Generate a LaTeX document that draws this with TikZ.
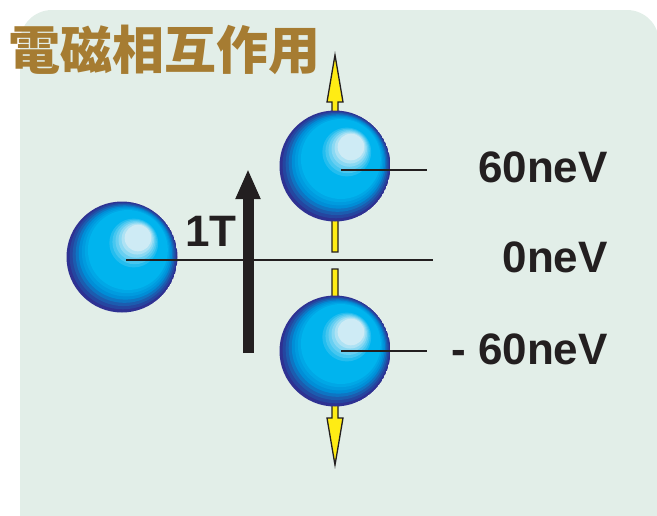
\documentclass[tikz,border=0pt]{standalone}
\usepackage{fontspec}
\setmainfont{Liberation Sans}
\newfontfamily\cjk{Noto Sans CJK JP}
\usetikzlibrary{arrows.meta}

\definecolor{panel}{RGB}{226,238,232}
\definecolor{titlegold}{RGB}{166,124,50}
\definecolor{ink}{RGB}{35,31,32}
\definecolor{spinyellow}{RGB}{255,236,20}
\definecolor{orbhl}{RGB}{206,235,245}
\definecolor{orbcyan}{RGB}{0,180,238}
\definecolor{orbmid}{RGB}{0,142,215}
\definecolor{orbdeep}{RGB}{28,92,175}
\definecolor{orbedge}{RGB}{46,49,146}

% colour of band #1 (1 = highlight ... 25 = outline)
\newcommand\orbcolorof[1]{%
  \ifnum#1<7 \def\orbc{orbhl}%
  \else\ifnum#1<13 \pgfmathtruncatemacro\orbp{100*(#1-6)/6}\edef\orbc{orbcyan!\orbp!orbhl}%
  \else\ifnum#1<19 \def\orbc{orbcyan}%
  \else\ifnum#1<22 \pgfmathtruncatemacro\orbp{100*(#1-18)/3}\edef\orbc{orbmid!\orbp!orbcyan}%
  \else\ifnum#1<24 \pgfmathtruncatemacro\orbp{100*(#1-21)/2}\edef\orbc{orbdeep!\orbp!orbmid}%
  \else \pgfmathtruncatemacro\orbp{100*(#1-23)/2}\edef\orbc{orbedge!\orbp!orbdeep}%
  \fi\fi\fi\fi\fi}

% stepped bands of a lit sphere, shrinking towards the highlight
\newcommand\orbbands{%
  \foreach \k in {25,24,...,1}{%
    \orbcolorof{\k}%
    \pgfmathsetmacro\orbsh{1-\k/25}%
    \fill[fill=\orbc] ([xshift=21*\orbsh pt, yshift=25*\orbsh pt]path picture bounding box.center)
      circle[radius=2.22*\k pt];
  }}

\tikzset{
  sphere/.style={circle, minimum size=111pt, inner sep=0pt, path picture={\orbbands}},
  level/.style={draw=ink, line width=2pt},
  energy/.style={font=\bfseries\fontsize{44}{44}\selectfont, text=ink, inner sep=0pt},
  spin/.style={fill=spinyellow, draw=ink, line width=1.3pt, line join=miter},
  field/.style={draw=ink, line width=11pt, -{Triangle[width=23pt,length=30pt]}},
}

\begin{document}
\begin{tikzpicture}[x=1pt, y=-1pt]
\useasboundingbox (0,0) rectangle (657,515);

% panel
\fill[panel, rounded corners=32pt] (20,560) -- (20,10) -- (659,10) -- (659,560) -- cycle;

% heading
\node[font=\cjk\bfseries\fontsize{52}{52}\selectfont, text=titlegold, inner sep=0pt]
  (title) at (165,50) {電磁相互作用};

% spin arrows (behind the spheres)
\path[spin] (332,252) -- (332,102) -- (327,102) -- (335,55) -- (343,102)
  -- (338,102) -- (338,252) -- cycle;
\path[spin] (332,269) -- (332,418) -- (327,418) -- (335,465) -- (343,418)
  -- (338,418) -- (338,269) -- cycle;

% spheres
\node[sphere] (zero) at (122,257) {};
\node[sphere] (up)   at (335,166) {};
\node[sphere] (down) at (335,351) {};

% energy levels
\coordinate (zeroA) at (126,260);
\coordinate (zeroB) at (433,260);
\coordinate (upA)   at (341,170);
\coordinate (upB)   at (427,170);
\coordinate (downA) at (341,351);
\coordinate (downB) at (427,351);
\draw[level] (zeroA) -- (zeroB);
\draw[level] (upA) -- (upB);
\draw[level] (downA) -- (downB);

% magnetic field
\coordinate (fieldFoot) at (248,353);
\coordinate (fieldTip)  at (248,169);
\draw[field] (fieldFoot) -- (fieldTip);
\node[energy] (tesla) at (211,231) {1T};

% level labels
\node[energy, anchor=east] (eUp)   at (608,167) {60neV};
\node[energy, anchor=east] (eZero) at (608,257) {0neV};
\node[energy, anchor=east] (eDown) at (608,349) {- 60neV};
\end{tikzpicture}
\end{document}
